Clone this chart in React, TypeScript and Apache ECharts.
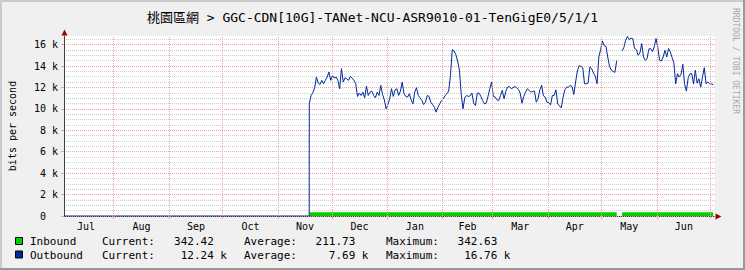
import { useEffect, useRef } from 'react';
import * as echarts from 'echarts';

// ---------- texts ----------
const TITLE = '桃園區網 > GGC-CDN[10G]-TANet-NCU-ASR9010-01-TenGigE0/5/1/1';
const Y_NAME = 'bits per second';
const WATERMARK = 'RRDTOOL / TOBI OETIKER';
const MONTH_NAMES = ['Jan', 'Feb', 'Mar', 'Apr', 'May', 'Jun', 'Jul', 'Aug', 'Sep', 'Oct', 'Nov', 'Dec'];

// ---------- time axis ----------
const AXIS_START = '2020-07-04T04:35:00Z';
const AXIS_END = '2021-07-03T10:00:00Z';
const MONTH_STARTS = [
  '2020-07-01', '2020-08-01', '2020-09-01', '2020-10-01', '2020-11-01', '2020-12-01',
  '2021-01-01', '2021-02-01', '2021-03-01', '2021-04-01', '2021-05-01', '2021-06-01', '2021-07-01',
];

// ---------- y axis (k bits per second) ----------
const Y_MAX = 16.8;
const Y_MAJOR = 2;
const Y_MINOR = 0.5;

// ---------- series (k bits per second, one value per day) ----------
const OUT_START = '2020-11-18T10:00:00Z';
const outboundLead: [string, number][] = [
  [AXIS_START, 0],
  ['2020-11-18T09:00:00Z', 0],
];
const outbound: (number | null)[] = [
  10.47, 11.25, 11.5, 11.97, 12.97, 12.4, 12.28, 12.66, 12.34, 12.66,
  12.97, 13.44, 12.66, 13.12, 12.87, 12.97, 12.66, 11.88, 13.75, 12.5,
  12.9, 12.8, 12.66, 13.03, 12.87, 12.66, 12.34, 11.16, 11.47, 11.25,
  11.56, 11.03, 12.12, 11.25, 11.56, 11.66, 11.25, 11.03, 11.56, 11.25,
  12.19, 11.34, 10.84, 10.0, 10.4, 10.94, 11.88, 11.16, 11.78, 11.88,
  11.25, 11.66, 12.5, 11.41, 11.16, 11.1, 11.41, 10.84, 10.47, 11.56,
  11.97, 11.25, 11.03, 10.78, 10.4, 10.62, 11.25, 11.16, 10.62, 10.4,
  10.16, 9.69, 10.16, 10.47, 10.78, 10.94, 11.25, 11.41, 11.66, 13.12,
  15.53, 15.4, 15.06, 14.47, 13.6, 11.41, 10.0, 11.03, 11.25, 11.16,
  11.22, 11.47, 10.53, 10.31, 11.47, 11.47, 11.16, 10.78, 10.47, 10.53,
  11.16, 11.88, 12.5, 11.16, 11.1, 10.84, 10.78, 11.25, 11.72, 10.94,
  11.66, 12.03, 12.09, 11.88, 11.97, 12.09, 11.97, 11.81, 11.47, 10.53,
  11.16, 11.56, 11.88, 11.72, 11.56, 11.63, 11.66, 10.62, 10.94, 11.78,
  12.19, 11.22, 11.1, 10.62, 10.56, 10.37, 11.25, 11.25, 11.78, 10.47,
  10.28, 10.09, 11.09, 11.78, 12.03, 12.03, 12.19, 12.09, 11.34, 12.5,
  13.53, 14.03, 13.97, 13.84, 12.34, 12.34, 12.4, 13.9, 13.75, 13.34,
  13.06, 12.34, 14.84, 15.53, 16.34, 15.9, 15.84, 14.84, 13.97, 13.6,
  13.5, 13.4, 14.5, null, null, 15.4, 15.72, 16.4, 16.76, 16.47,
  16.6, 16.56, 15.63, 15.53, 15.0, 15.22, 16.09, 14.84, 14.53, 14.69,
  15.59, 15.63, 15.34, 15.78, 16.56, 15.72, 14.53, 14.47, 14.84, 15.47,
  14.84, 15.63, 15.31, 14.78, 14.28, 12.34, 13.28, 12.97, 13.22, 14.16,
  12.28, 11.66, 12.9, 13.28, 13.28, 12.34, 13.6, 12.4, 12.81, 12.03,
  12.97, 13.84, 12.34, 12.5, 12.34, 12.34, 12.24,
];
const inboundDays = [0, 90, 172, 173, 175, 226];
const inboundValues: (number | null)[] = [0.3419, 0.3423, 0.3426, null, 0.3422, 0.34242];

// ---------- legend stats ----------
const STAT_LABELS = ['Current:', 'Average:', 'Maximum:'];
const inboundStats = [342.42, 211.73, 342.63];
const outboundStats = [12.24, 7.69, 16.76];

// ---------- styles ----------
const MONO = "'DejaVu Sans Mono', 'Noto Sans CJK TC', monospace";
const IN_COLOR = '#00CF00';
const OUT_COLOR = '#002A97';
const MAJOR_GRID = '#eca2a2';
const MINOR_GRID = '#cdcdcd';
const AXIS_COLOR = '#404040';
const ARROW_COLOR = '#990000';
const DAY = 86400000;

function ticksFor(max: number, interval: number): number[] {
  const out: number[] = [];
  for (let i = 0; i * interval <= max + 1e-9; i++) out.push(+(i * interval).toFixed(4));
  if (out[out.length - 1] < max - 1e-9) out.push(max);
  return out;
}

function buildOption() {
  const t0 = Date.parse(OUT_START);
  const tMin = Date.parse(AXIS_START);
  const tMax = Date.parse(AXIS_END);
  const monthTs = MONTH_STARTS.map((d) => Date.parse(d));
  const monthMids = monthTs.slice(0, -1).map((t, i) => (t + monthTs[i + 1]) / 2);
  const monthLines = monthTs.filter((t) => t > tMin && t < tMax);

  const outData: [number, number | null][] = [
    ...outboundLead.map(([d, v]) => [Date.parse(d), v] as [number, number]),
    ...outbound.map((v, i) => [t0 + i * DAY, v] as [number, number | null]),
  ];
  const inData = inboundDays.map((d, i) => [t0 + d * DAY, inboundValues[i]]);

  const majorColors = ticksFor(Y_MAX, Y_MAJOR).map((v) => (Math.abs(v - Y_MAX) < 1e-9 && v % Y_MAJOR !== 0 ? 'transparent' : MAJOR_GRID));
  const minorColors = ticksFor(Y_MAX, Y_MINOR).map((v) =>
    Math.abs(v % Y_MAJOR) < 1e-9 || (Math.abs(v - Y_MAX) < 1e-9 && Math.abs(v % Y_MINOR) > 1e-9) ? 'transparent' : MINOR_GRID,
  );

  const rows = [
    { name: 'Inbound', color: IN_COLOR, stats: inboundStats, unit: '', y: 241.5 },
    { name: 'Outbound', color: OUT_COLOR, stats: outboundStats, unit: 'k', y: 255 },
  ];
  const labelX = [102, 244, 386];
  const valueRightX = [213.8, 355.3, 497.3];
  const txt = (text: string, x: number, y: number, align: string, size = 11) => ({
    type: 'text',
    x,
    y,
    silent: true,
    style: {
      text,
      fontSize: size,
      fontFamily: MONO,
      fill: '#000',
      align,
      textAlign: align,
      verticalAlign: 'middle',
      textVerticalAlign: 'middle',
    },
  });
  const legendEls: any[] = [];
  rows.forEach((r) => {
    legendEls.push({
      type: 'rect',
      shape: { x: 15.5, y: r.y - 4, width: 7, height: 7 },
      style: { fill: r.color, stroke: '#000', lineWidth: 1 },
      silent: true,
    });
    legendEls.push(txt(r.name, 30, r.y, 'left'));
    r.stats.forEach((s, i) => {
      legendEls.push(txt(STAT_LABELS[i], labelX[i], r.y, 'left'));
      legendEls.push(txt(s.toFixed(2), valueRightX[i], r.y, 'right'));
      if (r.unit) legendEls.push(txt(r.unit, valueRightX[i] + 6.5, r.y, 'left'));
    });
  });

  return {
    animation: false,
    backgroundColor: '#f0f0f0',
    textStyle: { fontFamily: MONO },
    title: {
      text: TITLE,
      left: 'center',
      top: 6,
      textStyle: { fontFamily: MONO, fontSize: 13, fontWeight: 'normal', color: '#000' },
    },
    grid: {
      left: 64,
      right: 30,
      top: 36,
      bottom: 54,
      show: true,
      backgroundColor: '#ffffff',
      borderWidth: 0,
      containLabel: false,
      outerBoundsMode: 'none',
    },
    xAxis: {
      type: 'value',
      min: tMin,
      max: tMax,
      axisLine: { show: true, lineStyle: { color: AXIS_COLOR, width: 1 } },
      axisTick: { show: true, customValues: monthLines, length: 3, lineStyle: { color: MAJOR_GRID } },
      axisLabel: {
        customValues: monthMids,
        formatter: (v: number) => MONTH_NAMES[new Date(v).getUTCMonth()],
        fontSize: 10,
        fontFamily: MONO,
        color: '#000',
        margin: 5,
        hideOverlap: false,
      },
      splitLine: { show: false },
    },
    yAxis: [
      {
        type: 'value',
        min: 0,
        max: Y_MAX,
        interval: Y_MAJOR,
        name: Y_NAME,
        nameLocation: 'middle',
        nameRotate: 90,
        nameGap: 47,
        nameTextStyle: { fontSize: 10, fontFamily: MONO, color: '#000' },
        axisLine: { show: true, lineStyle: { color: AXIS_COLOR, width: 1 } },
        axisTick: { show: true, length: 3, lineStyle: { color: MAJOR_GRID } },
        axisLabel: {
          fontSize: 10,
          fontFamily: MONO,
          color: '#000',
          margin: 6,
          showMaxLabel: false,
          formatter: (v: number) => {
            if (Math.abs(v % Y_MAJOR) > 1e-9) return '';
            return v === 0 ? '0\u00a0\u00a0' : `${v} k`;
          },
        },
        splitLine: { show: true, lineStyle: { color: majorColors, type: [1, 1], width: 1 } },
        z: 3,
      },
      {
        type: 'value',
        min: 0,
        max: Y_MAX,
        interval: Y_MINOR,
        position: 'right',
        axisLine: { show: false },
        axisTick: { show: false },
        axisLabel: { show: false },
        splitLine: { show: true, lineStyle: { color: minorColors, type: [1, 1], width: 1 } },
        z: 1,
      },
    ],
    series: [
      {
        type: 'line',
        name: 'month grid',
        data: [],
        silent: true,
        z: 1,
        markLine: {
          silent: true,
          symbol: ['none', 'none'],
          label: { show: false },
          emphasis: { disabled: true },
          lineStyle: { color: MAJOR_GRID, type: [1, 1], width: 1 },
          data: monthLines.map((t) => ({ xAxis: t })),
        },
      },
      {
        type: 'line',
        name: 'Inbound',
        data: inData,
        showSymbol: false,
        symbol: 'none',
        connectNulls: false,
        lineStyle: { width: 0, color: IN_COLOR },
        areaStyle: { color: IN_COLOR, opacity: 1 },
        itemStyle: { color: IN_COLOR },
        silent: true,
        z: 3,
      },
      {
        type: 'line',
        name: 'Outbound',
        data: outData,
        showSymbol: false,
        symbol: 'none',
        connectNulls: false,
        lineStyle: { width: 1, color: OUT_COLOR },
        itemStyle: { color: OUT_COLOR },
        silent: true,
        z: 4,
      },
    ],
    graphic: {
      elements: [
        { type: 'rect', shape: { x: 0, y: 0, width: 745, height: 2 }, style: { fill: '#cbcbcb' }, silent: true },
        { type: 'rect', shape: { x: 0, y: 0, width: 2, height: 270 }, style: { fill: '#cbcbcb' }, silent: true },
        { type: 'rect', shape: { x: 0, y: 268, width: 745, height: 2 }, style: { fill: '#999999' }, silent: true },
        { type: 'rect', shape: { x: 743, y: 0, width: 2, height: 270 }, style: { fill: '#999999' }, silent: true },
        {
          type: 'polygon',
          shape: { points: [[61.5, 35.5], [67.5, 35.5], [64.5, 29.5]] },
          style: { fill: ARROW_COLOR },
          silent: true,
        },
        {
          type: 'polygon',
          shape: { points: [[715.5, 213.5], [715.5, 219.5], [721.5, 216.5]] },
          style: { fill: ARROW_COLOR },
          silent: true,
        },
        {
          type: 'text',
          x: 735.5,
          y: 61,
          rotation: -Math.PI / 2,
          silent: true,
          style: {
            text: WATERMARK,
            fontSize: 8,
            fontFamily: MONO,
            fill: '#a8a8a8',
            align: 'center',
            textAlign: 'center',
            verticalAlign: 'middle',
            textVerticalAlign: 'middle',
          },
        },
        ...legendEls,
      ],
    },
  };
}

export default function App() {
  const ref = useRef<HTMLDivElement>(null);
  useEffect(() => {
    document.body.style.margin = '0';
    if (!ref.current) return;
    const chart = echarts.init(ref.current, null, { renderer: 'svg' });
    chart.setOption(buildOption() as any);
    return () => chart.dispose();
  }, []);
  return <div ref={ref} style={{ width: 745, height: 270 }} />;
}
